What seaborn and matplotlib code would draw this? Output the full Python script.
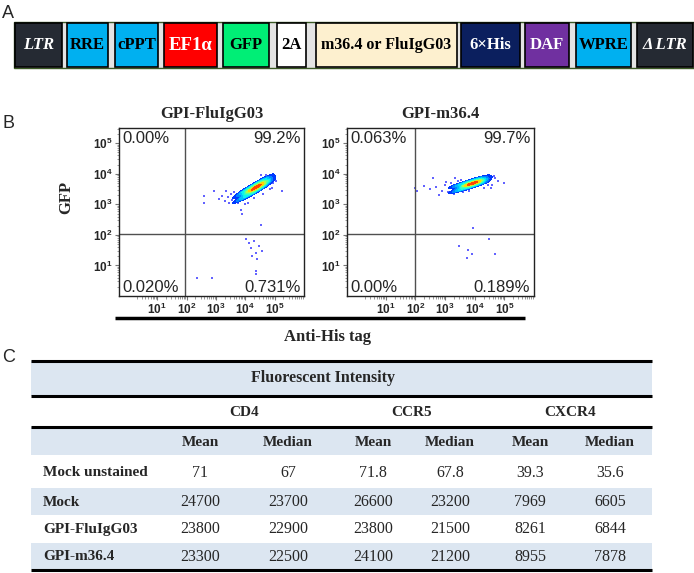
import numpy as np
import pandas as pd
import seaborn as sns
import matplotlib.pyplot as plt
from matplotlib.colors import ListedColormap

# ---- panel A: lentiviral construct ----
parts = ["LTR", "RRE", "cPPT", "EF1α", "GFP", "2A", "m36.4 or FluIgG03",
         "6×His", "DAF", "WPRE", "Δ LTR"]
part_colors = ["#252a33", "#00b0f0", "#00b0f0", "#ff0000", "#00ee76", "#ffffff",
               "#fdf0cf", "#0b1f5e", "#7030a0", "#00b0f0", "#252a33"]
part_text = ["white", "black", "black", "white", "black", "black", "black",
             "white", "white", "black", "white"]
part_italic = [True, False, False, False, False, False, False, False, False, False, True]
part_start = [15, 67, 115, 164, 223, 277, 316, 461, 525, 576, 637]
part_width = [47, 41, 43, 53, 46, 29, 141, 59, 44, 55, 56]
part_fs = [12, 12, 12, 13.5, 12, 12, 11.5, 12, 12, 12, 12]

# ---- panel B: flow cytometry (log10 units) ----
flu_core_x = [3.75, 3.75, 3.90, 3.90, 3.95, 4.05, 4.05, 4.10, 4.20, 4.20, 4.25, 4.18, 4.35, 4.35, 4.38,
              4.32, 4.40, 4.50, 4.50, 4.52, 4.47, 4.55, 4.65, 4.65, 4.68, 4.80, 4.80, 4.85, 4.42, 4.30]
flu_core_y = [3.14, 3.30, 3.20, 3.40, 3.33, 3.27, 3.49, 3.41, 3.34, 3.58, 3.48, 3.47, 3.43, 3.66, 3.55,
              3.55, 3.59, 3.51, 3.75, 3.62, 3.63, 3.67, 3.60, 3.82, 3.72, 3.70, 3.88, 3.81, 3.57, 3.50]
flu_dots_x = [2.61, 2.61, 2.95, 3.22, 3.46, 3.86, 3.90, 3.63, 5.05, 5.25, 4.92, 3.36, 3.12, 3.50, 3.75,
              4.10, 4.30, 4.70, 4.85, 3.55, 3.30, 4.00, 4.55, 3.40, 3.60, 3.80, 4.95, 5.00, 4.60,
              4.03, 4.14, 4.30, 4.20, 4.47, 4.37, 4.24, 4.58, 4.40, 4.37, 4.37, 2.34, 2.85, 4.54]
flu_dots_y = [3.29, 3.03, 3.45, 3.29, 3.06, 2.80, 2.70, 3.22, 3.78, 3.45, 3.55, 3.45, 3.19, 3.35, 3.05,
              3.05, 3.20, 3.95, 3.50, 3.15, 3.10, 3.00, 3.95, 3.25, 3.42, 3.12, 3.70, 3.92, 3.35,
              1.88, 1.74, 1.80, 1.58, 1.64, 1.41, 1.32, 1.48, 1.22, 0.72, 0.82, 0.60, 0.60, 2.34]

m36_core_x = [3.30, 3.30, 3.45, 3.45, 3.50, 3.60, 3.60, 3.65, 3.75, 3.75, 3.80, 3.72, 3.90, 3.90, 3.92,
              3.88, 3.95, 4.05, 4.05, 4.07, 4.02, 4.10, 4.20, 4.20, 4.22, 4.35, 4.35, 4.40, 3.98, 3.85]
m36_core_y = [3.42, 3.58, 3.46, 3.63, 3.56, 3.50, 3.68, 3.60, 3.54, 3.73, 3.65, 3.62, 3.58, 3.78, 3.69,
              3.67, 3.70, 3.63, 3.82, 3.73, 3.71, 3.74, 3.68, 3.86, 3.77, 3.74, 3.89, 3.83, 3.70, 3.66]
m36_dots_x = [2.00, 2.05, 2.30, 2.50, 2.70, 2.90, 3.00, 3.10, 3.20, 3.30, 3.45, 3.60, 3.80, 4.50, 4.60,
              4.70, 4.80, 4.98, 2.60, 3.35, 4.55, 2.80, 4.30, 3.15, 3.55, 4.45, 4.65, 3.05,
              3.93, 4.50, 3.49, 3.76, 3.90, 4.68, 3.73]
m36_dots_y = [3.54, 3.45, 3.60, 3.50, 3.58, 3.45, 3.62, 3.40, 3.70, 3.35, 3.75, 3.40, 3.45, 3.90, 3.65,
              3.85, 3.75, 3.70, 3.85, 3.85, 3.55, 3.30, 3.55, 3.55, 3.80, 3.62, 3.92, 3.72,
              2.24, 1.88, 1.64, 1.51, 1.38, 1.38, 1.25]

flu_pct = ["0.00%", "99.2%", "0.020%", "0.731%"]
m36_pct = ["0.063%", "99.7%", "0.00%", "0.189%"]

# ---- panel C: table ----
row_labels = ["Mock unstained", "Mock", "GPI-FluIgG03", "GPI-m36.4"]
markers = ["CD4", "CCR5", "CXCR4"]
cd4_mean = [71, 24700, 23800, 23300]
cd4_median = [67, 23700, 22900, 22500]
ccr5_mean = [71.8, 26600, 23800, 24100]
ccr5_median = [67.8, 23200, 21500, 21200]
cxcr4_mean = [39.3, 7969, 8261, 8955]
cxcr4_median = [35.6, 6605, 6844, 7878]

table = pd.DataFrame({"CD4 Mean": cd4_mean, "CD4 Median": cd4_median,
                      "CCR5 Mean": ccr5_mean, "CCR5 Median": ccr5_median,
                      "CXCR4 Mean": cxcr4_mean, "CXCR4 Median": cxcr4_median},
                     index=row_labels)

sns.set_style("ticks")
plt.rcParams['font.family'] = ['Liberation Serif', 'DejaVu Serif']
plt.rcParams['mathtext.fontset'] = 'custom'
plt.rcParams['mathtext.rm'] = 'Liberation Sans'
plt.rcParams['mathtext.bf'] = 'Liberation Sans:bold'

W, H = 694, 573
fig = plt.figure(figsize=(W / 100, H / 100), dpi=100)
ov = fig.add_axes([0, 0, 1, 1])
ov.set_xlim(0, W)
ov.set_ylim(H, 0)
ov.axis('off')

sans = 'Liberation Sans'
for lab, y in [("A", 13), ("B", 124), ("C", 357)]:
    ov.text(2, y, lab, family=sans, fontsize=13, ha='left', va='center')

# construct
ov.barh(45, 680, left=14, height=46, color='#e4e4e4', edgecolor='#3b5a25', linewidth=1)
ov.barh([45] * len(parts), part_width, left=part_start, height=44,
        color=part_colors, edgecolor='black', linewidth=1.2)
for name, x0, w, tc, it, fs in zip(parts, part_start, part_width, part_text, part_italic, part_fs):
    ov.text(x0 + w / 2, 45, name, color=tc, fontsize=fs, fontweight='bold',
            style='italic' if it else 'normal', ha='center', va='center')

# flow panels
flow_cmap = ListedColormap(plt.get_cmap('jet')(np.linspace(0.14, 0.92, 256)))
ticks = [1, 2, 3, 4, 5]
tick_labels = [r'$\mathbf{10^{%d}}$' % k for k in ticks]
minor = [k + np.log10(m) for k in range(0, 6) for m in range(2, 10)]


def flow_panel(rect, core_x, core_y, dots_x, dots_y, gate_x, pct, title):
    ax = fig.add_axes([rect[0] / W, 1 - rect[3] / H, (rect[2] - rect[0]) / W, (rect[3] - rect[1]) / H])
    sns.scatterplot(x=dots_x + core_x, y=dots_y + core_y, ax=ax, s=4, marker='s',
                    color='#3c3cff', linewidth=0, alpha=0.8)
    sns.kdeplot(x=core_x, y=core_y, ax=ax, fill=True, cmap=flow_cmap, levels=10,
                thresh=0.07, bw_adjust=1.0)
    ax.axvline(gate_x, color='#505050', lw=1)
    ax.axhline(2.04, color='#505050', lw=1)
    ax.set_xlim(-0.3, 6.0)
    ax.set_ylim(0, 5.5)
    ax.set_xlabel('')
    ax.set_ylabel('')
    ax.set_xticks(ticks)
    ax.set_xticklabels(tick_labels, fontsize=8.5)
    ax.set_yticks(ticks)
    ax.set_yticklabels(tick_labels, fontsize=8.5)
    ax.set_xticks([m for m in minor if -0.3 < m < 6.0], minor=True)
    ax.set_yticks([m for m in minor if 0 < m < 5.5], minor=True)
    ax.tick_params(which='major', length=3, width=0.8, color='#777777', pad=1.5)
    ax.tick_params(which='minor', length=1.8, width=0.6, color='#888888')
    for s in ax.spines.values():
        s.set_color('#222222')
        s.set_linewidth(1)
    kw = dict(family=sans, fontsize=12, transform=ax.transAxes)
    ax.text(0.02, 0.985, pct[0], ha='left', va='top', **kw)
    ax.text(0.98, 0.985, pct[1], ha='right', va='top', **kw)
    ax.text(0.02, 0.005, pct[2], ha='left', va='bottom', **kw)
    ax.text(0.98, 0.005, pct[3], ha='right', va='bottom', **kw)
    ax.set_title(title, fontsize=12, fontweight='bold', pad=7)
    return ax


flow_panel((119, 128, 304, 296), flu_core_x, flu_core_y, flu_dots_x, flu_dots_y, 1.95,
           flu_pct, "GPI-FluIgG03")
flow_panel((347, 128, 534, 296), m36_core_x, m36_core_y, m36_dots_x, m36_dots_y, 2.0,
           m36_pct, "GPI-m36.4")

ov.text(66, 197, "GFP", fontsize=12, fontweight='bold', rotation=90, ha='center', va='center')
ov.hlines(318, 115, 525, color='black', lw=2.5)
ov.text(328, 337, "Anti-His tag", fontsize=12, fontweight='bold', ha='center', va='center')

# table
blue = '#dce6f1'
tx0, tx1 = 31, 652
for y0, y1 in [(361, 396), (427, 455), (488, 515), (543, 569)]:
    ov.barh((y0 + y1) / 2, tx1 - tx0, left=tx0, height=y1 - y0, color=blue, linewidth=0)
ov.hlines([361, 396, 427, 570], tx0, tx1, color='black', lw=2.2)

ov.text(323, 378, "Fluorescent Intensity", fontsize=11.5, fontweight='bold', ha='center', va='center')
col_x = [200, 288, 373, 450, 530, 610]
for i, m in enumerate(markers):
    ov.text((col_x[2 * i] + col_x[2 * i + 1]) / 2, 412, m, fontsize=11, fontweight='bold',
            ha='center', va='center')
for i, col in enumerate(table.columns):
    ov.text(col_x[i], 442, col.split()[1], fontsize=11, fontweight='bold', ha='center', va='center')
row_y = [473, 502, 529, 557]
for r, lab in enumerate(table.index):
    ov.text(43, row_y[r], lab, fontsize=11, fontweight='bold', ha='left', va='center')
    for i, col in enumerate(table.columns):
        ov.text(col_x[i], row_y[r], '{:g}'.format(table.loc[lab, col]), fontsize=11.5,
                ha='center', va='center')

fig.savefig('out.png', dpi=100)
